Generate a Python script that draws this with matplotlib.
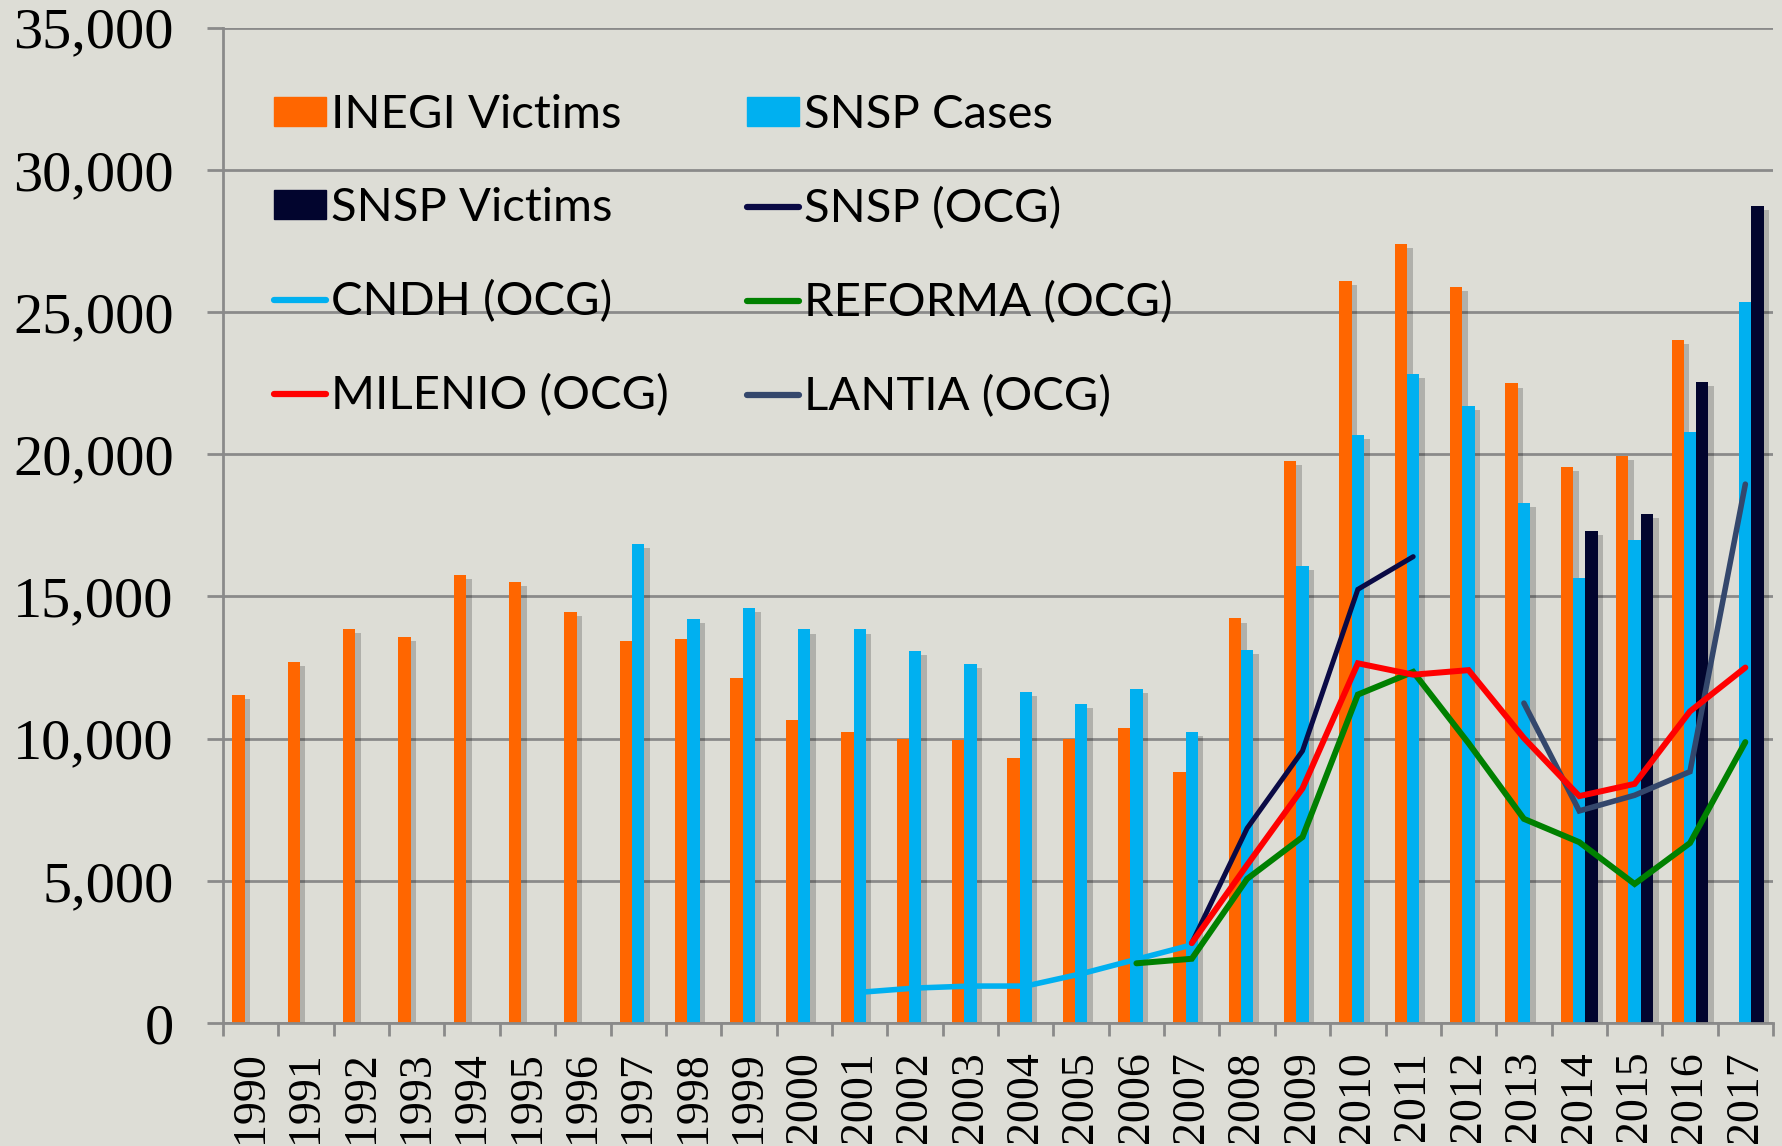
import numpy as np
import matplotlib

matplotlib.use("Agg")
import matplotlib.pyplot as plt
from matplotlib import patheffects as pe
from matplotlib.lines import Line2D
from matplotlib.patches import Patch
from matplotlib.ticker import FuncFormatter, MultipleLocator

nan = np.nan

# --- data ------------------------------------------------------------------
years = list(range(1990, 2018))

inegi_victims = [11540, 12700, 13870, 13580, 15750, 15500, 14450, 13430, 13520,
                 12130, 10650, 10240, 10000, 9950, 9330, 10000, 10390, 8830,
                 14230, 19760, 26100, 27400, 25880, 22490, 19550, 19940, 24020,
                 nan]
snsp_cases = [nan] * 7 + [16860, 14220, 14590, 13840, 13840, 13100, 12630,
                          11640, 11220, 11760, 10230, 13120, 16070, 20670,
                          22830, 21700, 18280, 15650, 16990, 20770, 25340]
snsp_victims = [nan] * 24 + [17300, 17900, 22550, 28720]

snsp_ocg = [nan] * 17 + [2810, 6850, 9570, 15250, 16400] + [nan] * 6
cndh_ocg = [nan] * 11 + [1080, 1230, 1300, 1300, 1730, 2240, 2750] + [nan] * 10
reforma_ocg = [nan] * 16 + [2100, 2260, 5070, 6540, 11550, 12350, 9840, 7180,
                            6360, 4890, 6330, 9880]
milenio_ocg = [nan] * 17 + [2810, 5560, 8250, 12650, 12250, 12410, 10020,
                            7980, 8410, 10960, 12500]
lantia_ocg = [nan] * 23 + [11250, 7460, 8010, 8840, 18950]

# --- style ------------------------------------------------------------------
BG = "#DDDDD6"
GRID = "#8A8A8A"
ORANGE = "#FF6600"
SKY = "#00B0F0"
NAVY = "#02052E"

fig = plt.figure(figsize=(17.83, 11.46), dpi=100, facecolor=BG)
ax = fig.add_axes([0.1251, 0.1073, 0.8693, 0.8685])
ax.set_facecolor(BG)

x = np.arange(len(years))
w = 0.222
shadow = [pe.SimplePatchShadow(offset=(4, -3), shadow_rgbFace="black", alpha=0.2),
          pe.Normal()]

bar_series = [
    (inegi_victims, -w, ORANGE, "INEGI Victims"),
    (snsp_cases, 0.0, SKY, "SNSP Cases"),
    (snsp_victims, w, NAVY, "SNSP Victims"),
]
for vals, off, col, _ in bar_series:
    bars = ax.bar(x + off, np.array(vals, dtype=float), width=w, color=col,
                  zorder=3, linewidth=0)
    for b in bars:
        b.set_path_effects(shadow)

line_series = [
    (cndh_ocg, SKY, 4.0, "CNDH (OCG)"),
    (reforma_ocg, "#008000", 4.3, "REFORMA (OCG)"),
    (snsp_ocg, "#0A0A45", 3.6, "SNSP (OCG)"),
    (lantia_ocg, "#34476C", 4.0, "LANTIA (OCG)"),
    (milenio_ocg, "#FF0000", 4.3, "MILENIO (OCG)"),
]
for vals, col, lw, _ in line_series:
    ax.plot(x, np.array(vals, dtype=float), color=col, lw=lw, zorder=4,
            solid_capstyle="round", solid_joinstyle="miter")

# --- axes -------------------------------------------------------------------
ax.set_xlim(-0.5, len(years) - 0.5)
ax.set_ylim(0, 35000)
ax.yaxis.set_major_locator(MultipleLocator(5000))
ax.yaxis.set_major_formatter(FuncFormatter(lambda v, _: f"{int(v):,}"))
ax.grid(axis="y", color=GRID, lw=2, zorder=1)
ax.set_axisbelow(True)

for s in ("top", "right"):
    ax.spines[s].set_visible(False)
for s in ("left", "bottom"):
    ax.spines[s].set_color(GRID)
    ax.spines[s].set_linewidth(2)
    ax.spines[s].set_zorder(5)

ax.set_xticks(x)
ax.set_xticklabels([str(y) for y in years], rotation=90,
                   fontfamily="Liberation Serif", fontsize=33)
ax.set_xticks(np.arange(-0.5, len(years)), minor=True)
ax.tick_params(axis="x", which="major", length=0, pad=20)
ax.tick_params(axis="x", which="minor", length=9.5, width=2, color=GRID)
ax.tick_params(axis="y", length=11.5, width=2, color=GRID, pad=24)
for t in ax.get_yticklabels():
    t.set_fontfamily("Liberation Serif")
    t.set_fontsize(42)

# --- legend (Excel style, two columns, row-major) ---------------------------
handles = {
    "INEGI Victims": Patch(color=ORANGE),
    "SNSP Cases": Patch(color=SKY),
    "SNSP Victims": Patch(color=NAVY),
}
for vals, col, lw, lab in line_series:
    handles[lab] = Line2D([], [], color=col, lw=4.5, solid_capstyle="round")
order = ["INEGI Victims", "SNSP Victims", "CNDH (OCG)", "MILENIO (OCG)",
         "SNSP Cases", "SNSP (OCG)", "REFORMA (OCG)", "LANTIA (OCG)"]
fig.legend([handles[k] for k in order], order, ncol=2, loc="upper left",
           bbox_to_anchor=(0.1537, 0.9177), frameon=False,
           prop={"family": "Lato", "size": 34},
           handlelength=1.1, handleheight=0.55, handletextpad=0.1,
           labelspacing=1.08, columnspacing=1.67, borderpad=0, borderaxespad=0)

fig.savefig("out.png", dpi=100, facecolor=BG)
